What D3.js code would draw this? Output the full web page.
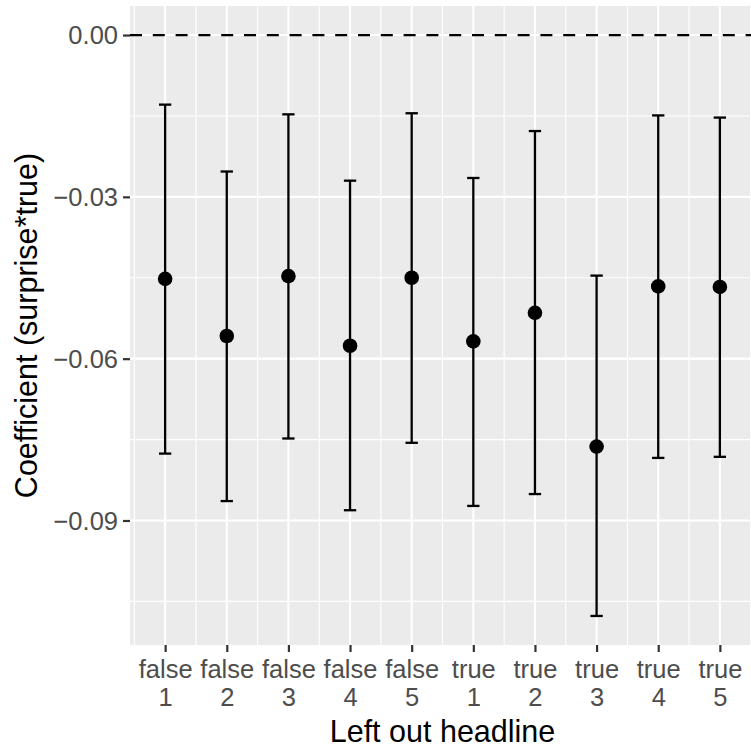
<!DOCTYPE html>
<html>
<head>
<meta charset="utf-8">
<script src="https://cdn.jsdelivr.net/npm/d3@7"></script>
<style>
  html, body { margin: 0; padding: 0; background: #fff; }
  svg { display: block; font-family: "Liberation Sans", Arial, Helvetica, sans-serif; }
</style>
</head>
<body>
<svg id="chart" width="751" height="748"></svg>
<script>
// left-out headline groups (two-line tick labels)
const truthLabels = ["false", "false", "false", "false", "false", "true", "true", "true", "true", "true"];
const headlineIds = [1, 2, 3, 4, 5, 1, 2, 3, 4, 5];
const categories = truthLabels.map((t, i) => t + "\n" + headlineIds[i]);

// coefficient estimates with 95% interval
const estimates = [-0.0452, -0.0558, -0.0447, -0.0576, -0.0450, -0.0568, -0.0515, -0.0763, -0.0466, -0.0467];
const upperCI   = [-0.0129, -0.0253, -0.0147, -0.0270, -0.0145, -0.0265, -0.0178, -0.0446, -0.0149, -0.0153];
const lowerCI   = [-0.0776, -0.0864, -0.0748, -0.0881, -0.0756, -0.0873, -0.0851, -0.1077, -0.0784, -0.0782];

const yTicks = [0, -0.03, -0.06, -0.09];
const yMinor = [-0.015, -0.045, -0.075, -0.105];

const svg = d3.select("#chart");
const panel = { left: 130, right: 755, top: 6, bottom: 645 };

// ggplot-like 5% expansion around data + reference line at 0
const yMin = d3.min(lowerCI), yMax = 0;
const pad = (yMax - yMin) * 0.05;
const y = d3.scaleLinear()
    .domain([yMin - pad, yMax + pad])
    .range([panel.bottom, panel.top]);

const x = d3.scalePoint()
    .domain(categories)
    .range([panel.left, panel.right])
    .padding(0.57);

const step = x.step();

// panel background
svg.append("rect")
    .attr("x", panel.left)
    .attr("y", panel.top)
    .attr("width", panel.right - panel.left)
    .attr("height", panel.bottom - panel.top)
    .attr("fill", "#EBEBEB");

const grid = svg.append("g");

// minor grid
grid.selectAll("line.ymin")
    .data(yMinor)
    .enter().append("line")
    .attr("x1", panel.left).attr("x2", panel.right)
    .attr("y1", d => y(d)).attr("y2", d => y(d))
    .attr("stroke", "#fff").attr("stroke-width", 1.1);

const xMinor = categories.map(c => x(c) - step / 2).concat([x(categories[categories.length - 1]) + step / 2]);
grid.selectAll("line.xmin")
    .data(xMinor)
    .enter().append("line")
    .attr("y1", panel.top).attr("y2", panel.bottom)
    .attr("x1", d => d).attr("x2", d => d)
    .attr("stroke", "#fff").attr("stroke-width", 1.1);

// major grid
grid.selectAll("line.ymaj")
    .data(yTicks)
    .enter().append("line")
    .attr("x1", panel.left).attr("x2", panel.right)
    .attr("y1", d => y(d)).attr("y2", d => y(d))
    .attr("stroke", "#fff").attr("stroke-width", 2.1);

grid.selectAll("line.xmaj")
    .data(categories)
    .enter().append("line")
    .attr("y1", panel.top).attr("y2", panel.bottom)
    .attr("x1", d => x(d)).attr("x2", d => x(d))
    .attr("stroke", "#fff").attr("stroke-width", 2.1);

// dashed zero line
svg.append("line")
    .attr("x1", panel.left).attr("x2", panel.right)
    .attr("y1", y(0)).attr("y2", y(0))
    .attr("stroke", "#000")
    .attr("stroke-width", 2.2)
    .attr("stroke-dasharray", "12,10.8");

// error bars
const capW = step * 0.2;
const bars = svg.append("g");
categories.forEach((c, i) => {
    const cx = x(c);
    bars.append("line")
        .attr("x1", cx).attr("x2", cx)
        .attr("y1", y(upperCI[i])).attr("y2", y(lowerCI[i]))
        .attr("stroke", "#000").attr("stroke-width", 2.3);
    [upperCI[i], lowerCI[i]].forEach(v => {
        bars.append("line")
            .attr("x1", cx - capW / 2).attr("x2", cx + capW / 2)
            .attr("y1", y(v)).attr("y2", y(v))
            .attr("stroke", "#000").attr("stroke-width", 2.3);
    });
});

// points
svg.append("g")
    .selectAll("circle")
    .data(estimates)
    .enter().append("circle")
    .attr("cx", (d, i) => x(categories[i]))
    .attr("cy", d => y(d))
    .attr("r", 7.3)
    .attr("fill", "#000");

// y axis
const yAxis = svg.append("g")
    .attr("transform", `translate(${panel.left},0)`)
    .call(d3.axisLeft(y).tickValues(yTicks).tickFormat(d3.format(".2f")).tickSize(7).tickPadding(5));
yAxis.select(".domain").remove();
yAxis.selectAll(".tick line").attr("stroke", "#333").attr("stroke-width", 2.2);
yAxis.selectAll(".tick text")
    .attr("fill", "#4D4D4D")
    .style("font-size", "25.5px")
    .attr("dy", "0.35em");

// x axis
const xAxis = svg.append("g")
    .attr("transform", `translate(0,${panel.bottom})`)
    .call(d3.axisBottom(x).tickSize(7).tickFormat(""));
xAxis.select(".domain").remove();
xAxis.selectAll(".tick line").attr("stroke", "#333").attr("stroke-width", 2.2);
xAxis.selectAll(".tick").each(function(d, i) {
    const t = d3.select(this).append("text")
        .attr("fill", "#4D4D4D")
        .attr("text-anchor", "middle")
        .style("font-size", "25.5px");
    t.append("tspan").attr("x", 0).attr("y", 33).text(truthLabels[i]);
    t.append("tspan").attr("x", 0).attr("y", 61).text(headlineIds[i]);
});

// axis titles
svg.append("text")
    .attr("x", (panel.left + panel.right) / 2)
    .attr("y", 742)
    .attr("text-anchor", "middle")
    .attr("fill", "#000")
    .style("font-size", "30.5px")
    .text("Left out headline");

svg.append("text")
    .attr("transform", `translate(37,${(panel.top + panel.bottom) / 2}) rotate(-90)`)
    .attr("text-anchor", "middle")
    .attr("fill", "#000")
    .style("font-size", "30.5px")
    .text("Coefficient (surprise*true)");
</script>
</body>
</html>
